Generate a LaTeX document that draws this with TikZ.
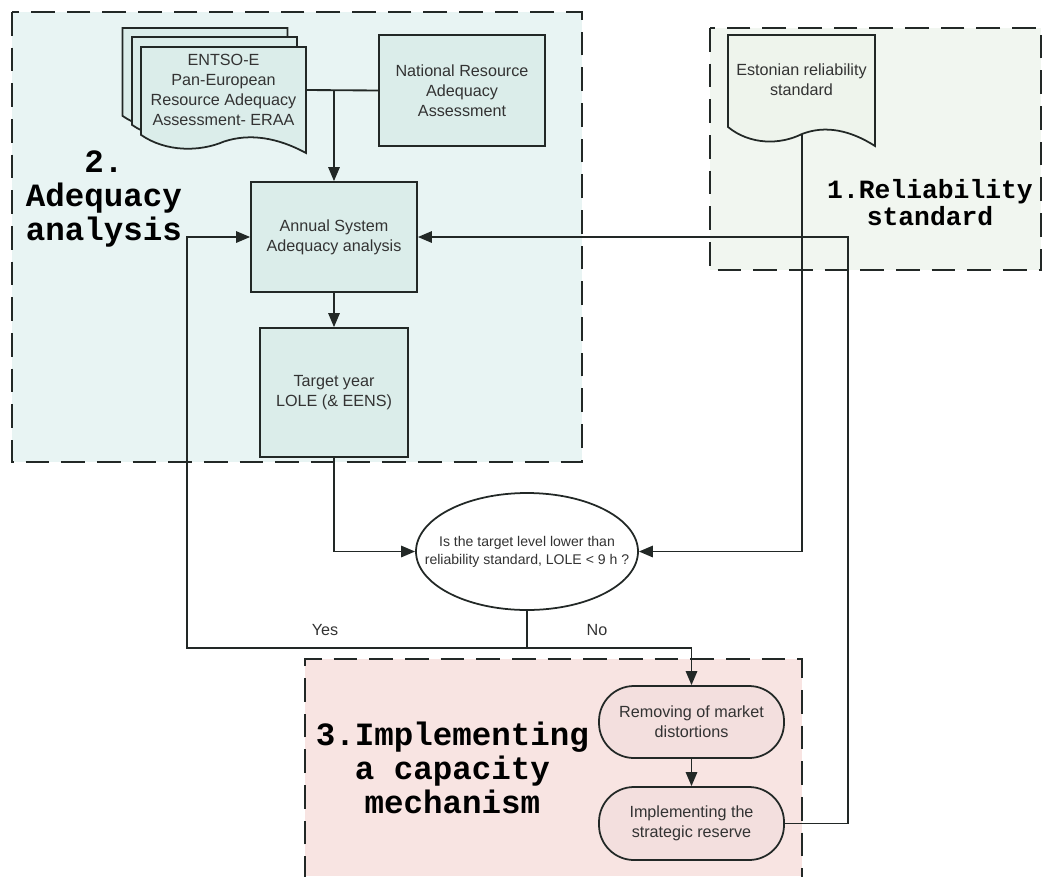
\documentclass[tikz,border=0pt]{standalone}
\usepackage{fontspec}
\setmainfont{Liberation Sans}
\newfontfamily\titlefont{Liberation Mono}
\usetikzlibrary{arrows.meta,shapes.geometric}

\definecolor{tealout}{HTML}{E8F4F3}
\definecolor{tealin}{HTML}{DBEDEA}
\definecolor{greenout}{HTML}{F1F6F0}
\definecolor{greenin}{HTML}{EEF4EC}
\definecolor{pinkout}{HTML}{F8E4E2}
\definecolor{pinkin}{HTML}{F3DFDE}
\definecolor{edge}{HTML}{222826}
\definecolor{txt}{HTML}{333333}

\newcommand\docshape[5]{%
  \begin{scope}[shift={(#1,#2)},xscale=#3,yscale=#4]
    \path[#5] (0,0) -- (1,0) -- (1,1)
      .. controls (0.83,0.856) and (0.66,0.811) .. (0.503,0.892)
      .. controls (0.354,0.991) and (0.15,0.991) .. (0,0.829) -- cycle;
  \end{scope}}

\begin{document}
\begin{tikzpicture}[x=0.02cm,y=-0.02cm,
  box/.style={draw=edge, line width=1pt, fill=tealin, align=center,
    font=\fontsize{9.2}{11.3}\selectfont, text=txt, inner sep=0pt},
  txtnode/.style={align=center, font=\fontsize{9.2}{11.3}\selectfont, text=txt, inner sep=0pt},
  pill/.style={draw=edge, line width=1pt, fill=pinkin, align=center, rounded corners=0.7cm,
    font=\fontsize{9.2}{11.3}\selectfont, text=txt, inner sep=0pt},
  group/.style={draw=edge, line width=1.4pt, dash pattern=on 13.5pt off 6.8pt},
  docline/.style={draw=edge, line width=1pt},
  conn/.style={draw=edge, line width=1.05pt},
  arr/.style={conn, -{Triangle[length=8pt,width=6.5pt]}},
  title/.style={font=\titlefont\bfseries\fontsize{18.5}{19.5}\selectfont, align=center, text=black, inner sep=0pt},
]
\useasboundingbox (0,0) rectangle (1044,876);

% group backgrounds
\fill[tealout] (12,12) rectangle (582,462);
\fill[greenout] (710,28) rectangle (1041,270);
\fill[pinkout] (305,659) rectangle (802,876);
\draw[group] (12,12) rectangle (582,462);
\draw[group] (710,28) rectangle (1041,270);
\draw[group] (305,880) -- (305,659) -- (802,659) -- (802,880);

% titles
\node[title] (t2) at (104,199) {2.\\Adequacy\\analysis};
\node[title, font=\titlefont\bfseries\fontsize{15}{15.3}\selectfont] (t1) at (930,203) {1.Reliability\\standard};
\node[title] (t3) at (452.5,768) {3.Implementing\\a capacity\\mechanism};

% document shapes
\docshape{122.5}{28}{165}{106}{docline, fill=tealin}
\docshape{132}{37}{165}{106}{docline, fill=tealin}
\docshape{141}{47}{165}{106}{docline, fill=tealin}
\docshape{728}{35}{147}{111}{docline, fill=greenin}

% nodes
\node[txtnode, minimum width={165*0.02cm}] (entso) at (223.5,90)
  {ENTSO-E\\Pan-European\\Resource Adequacy\\Assessment- ERAA};
\node[box, minimum width={166*0.02cm}, minimum height={111*0.02cm}] (nat) at (462,90.5)
  {National Resource\\Adequacy\\Assessment};
\node[box, minimum width={166*0.02cm}, minimum height={110*0.02cm}] (annual) at (334,237)
  {Annual System\\Adequacy analysis};
\node[box, minimum width={148*0.02cm}, minimum height={129*0.02cm}] (target) at (334,392.5)
  {Target year\\LOLE (\& EENS)};
\node[txtnode, minimum width={147*0.02cm}] (est) at (801.5,79.5)
  {Estonian reliability\\standard};
\coordinate (eststem) at (802,134);

\node[ellipse, draw=edge, line width=1pt, fill=white, inner sep=0pt,
  minimum width={222*0.02cm}, minimum height={117*0.02cm}] (q) at (527,551.5) {};
\node[txtnode, font=\fontsize{8}{10.2}\selectfont] (qt) at (q.center)
  {Is the target level lower than\\reliability standard, LOLE < 9 h ?};

\node[pill, minimum width={185*0.02cm}, minimum height={72*0.02cm}] (rem) at (691.5,722)
  {Removing of market\\distortions};
\node[pill, minimum width={185*0.02cm}, minimum height={73*0.02cm}] (impl) at (691.5,823.5)
  {Implementing the\\strategic reserve};

\node[txtnode] (yes) at (325,630) {Yes};
\node[txtnode] (no) at (597,630) {No};

% connectors
\coordinate (j1) at (334,90.5);
\draw[conn] (entso.east) -- (nat.west);
\draw[arr] (j1) -- (annual.north);
\draw[arr] (annual.south) -- (target.north);
\draw[arr] (target.south) |- (q.west);
\draw[arr] (eststem) |- (q.east);
\coordinate (j2) at (527,648);
\draw[conn] (q.south) -- (j2);
\draw[arr] (j2) -- (187,648) -- (187,237) -- (annual.west);
\draw[arr] (j2) -| (rem.north);
\draw[arr] (rem.south) -- (impl.north);
\draw[arr] (impl.east) -- (848,823.5) -- (848,237) -- (annual.east);
\end{tikzpicture}
\end{document}
